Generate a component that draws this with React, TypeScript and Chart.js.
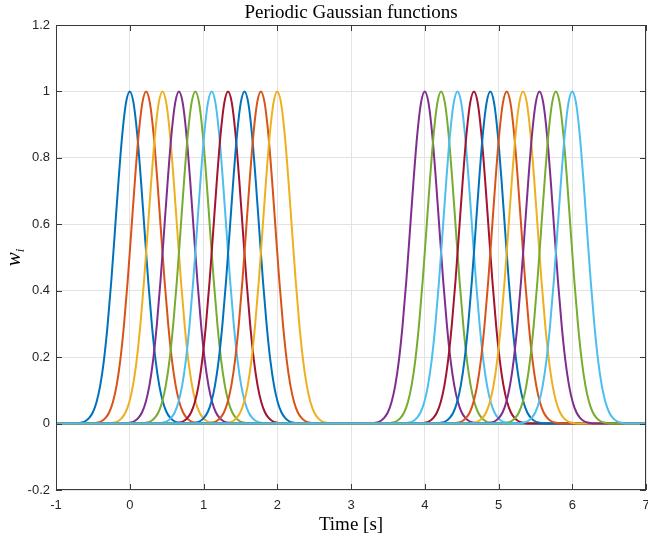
import React, { useEffect, useRef } from "react";
import { Chart, registerables } from "chart.js";

Chart.register(...registerables);

// Gaussian centres (s)
const CENTERS_A = [0, 0.222, 0.444, 0.667, 0.889, 1.111, 1.333, 1.556, 1.778, 2.0];
const CENTERS_B = [4.0, 4.222, 4.444, 4.667, 4.889, 5.111, 5.333, 5.556, 5.778, 6.0];
// One bump's shape: offset from centre (s) -> value
const PROFILE_OFFSETS = [-0.85, -0.8, -0.75, -0.7, -0.65, -0.6, -0.55, -0.5, -0.45, -0.4, -0.35, -0.3, -0.25, -0.2, -0.15, -0.1, -0.05, 0, 0.05, 0.1, 0.15, 0.2, 0.25, 0.3, 0.35, 0.4, 0.45, 0.5, 0.55, 0.6, 0.65, 0.7, 0.75, 0.8, 0.85];
const PROFILE_VALUES = [0, 0.0002, 0.0005, 0.0013, 0.0033, 0.0077, 0.017, 0.034, 0.065, 0.115, 0.191, 0.297, 0.43, 0.583, 0.738, 0.874, 0.967, 1, 0.967, 0.874, 0.738, 0.583, 0.43, 0.297, 0.191, 0.115, 0.065, 0.034, 0.017, 0.0077, 0.0033, 0.0013, 0.0005, 0.0002, 0];
const X_RANGE = [-1, 7];
const Y_RANGE = [-0.2, 1.2];
const X_TICKS = [-1, 0, 1, 2, 3, 4, 5, 6, 7];
const Y_TICKS = [-0.2, 0, 0.2, 0.4, 0.6, 0.8, 1, 1.2];
const COLORS = ["#0072BD", "#D95319", "#EDB120", "#7E2F8E", "#77AC30", "#4DBEEE", "#A2142F"];
const TITLE = "Periodic Gaussian functions";
const X_LABEL = "Time [s]";

const SERIF = "'Liberation Serif', 'DejaVu Serif', serif";
const SANS = "'Liberation Sans', Arial, sans-serif";

const decorPlugin = {
  id: "decor",
  afterDatasetsDraw(chart: any) {
    const { ctx, chartArea } = chart;
    const { left, right, top, bottom } = chartArea;
    const xs = chart.scales.x;
    const ys = chart.scales.y;
    ctx.save();
    // box
    ctx.strokeStyle = "#3a3a3a";
    ctx.lineWidth = 1;
    ctx.strokeRect(Math.round(left) + 0.5, Math.round(top) + 0.5, Math.round(right - left) - 1, Math.round(bottom - top) - 1);
    // inner ticks
    const tl = 6;
    ctx.beginPath();
    X_TICKS.forEach((t) => {
      const px = Math.round(xs.getPixelForValue(t)) + 0.5;
      ctx.moveTo(px, bottom);
      ctx.lineTo(px, bottom - tl);
      ctx.moveTo(px, top);
      ctx.lineTo(px, top + tl);
    });
    Y_TICKS.forEach((t) => {
      const py = Math.round(ys.getPixelForValue(t)) + 0.5;
      ctx.moveTo(left, py);
      ctx.lineTo(left + tl, py);
      ctx.moveTo(right, py);
      ctx.lineTo(right - tl, py);
    });
    ctx.stroke();
    // title
    ctx.fillStyle = "#000";
    ctx.textAlign = "center";
    ctx.textBaseline = "alphabetic";
    ctx.font = `19px ${SERIF}`;
    ctx.fillText(TITLE, (left + right) / 2, 18);
    // x label
    ctx.font = `19px ${SERIF}`;
    ctx.fillText(X_LABEL, (left + right) / 2, 530);
    // y label w_i
    ctx.translate(20, (top + bottom) / 2);
    ctx.rotate(-Math.PI / 2);
    ctx.font = `italic 21px ${SERIF}`;
    const wW = ctx.measureText("w").width;
    ctx.font = `italic 13px ${SERIF}`;
    const iW = ctx.measureText("i").width;
    const total = wW + iW;
    ctx.textAlign = "left";
    ctx.font = `italic 21px ${SERIF}`;
    ctx.fillText("w", -total / 2, 0);
    ctx.font = `italic 13px ${SERIF}`;
    ctx.fillText("i", -total / 2 + wW, 4);
    ctx.restore();
  },
};

function buildSeries(center: number) {
  const pts = [{ x: X_RANGE[0], y: 0 }];
  PROFILE_OFFSETS.forEach((o, k) => pts.push({ x: center + o, y: PROFILE_VALUES[k] }));
  pts.push({ x: X_RANGE[1], y: 0 });
  return pts;
}

export default function App() {
  const ref = useRef<HTMLCanvasElement>(null);
  useEffect(() => {
    const centers = [...CENTERS_A, ...CENTERS_B];
    const n = centers.length;
    const datasets = centers.map((c, i) => ({
      data: buildSeries(c),
      borderColor: COLORS[i % COLORS.length],
      backgroundColor: COLORS[i % COLORS.length],
      borderWidth: 2,
      pointRadius: 0,
      fill: false,
      cubicInterpolationMode: "monotone" as const,
      order: n - 1 - i,
    }));
    const chart = new Chart(ref.current!, {
      type: "line",
      data: { datasets },
      options: {
        animation: false,
        responsive: false,
        maintainAspectRatio: false,
        devicePixelRatio: 1,
        layout: { padding: { left: 0, right: 2, top: 25, bottom: 0 } },
        plugins: { legend: { display: false }, tooltip: { enabled: false }, title: { display: false } },
        scales: {
          x: {
            type: "linear",
            min: X_RANGE[0],
            max: X_RANGE[1],
            afterBuildTicks: (s: any) => { s.ticks = X_TICKS.map((v) => ({ value: v })); },
            afterFit: (s: any) => { s.height = 52; s.paddingLeft = 0; s.paddingRight = 0; },
            grid: { color: "#e3e3e3", drawTicks: false, lineWidth: 1 },
            border: { display: false },
            ticks: {
              padding: 8,
              color: "#262626",
              font: { family: SANS, size: 13 },
              callback: (v: any) => String(v),
            },
          },
          y: {
            type: "linear",
            min: Y_RANGE[0],
            max: Y_RANGE[1],
            afterBuildTicks: (s: any) => { s.ticks = Y_TICKS.map((v) => ({ value: v })); },
            afterFit: (s: any) => { s.width = 56; s.paddingTop = 0; s.paddingBottom = 0; },
            grid: { color: "#e3e3e3", drawTicks: false, lineWidth: 1 },
            border: { display: false },
            ticks: {
              padding: 6,
              color: "#262626",
              font: { family: SANS, size: 13 },
              callback: (v: any) => String(Math.round(Number(v) * 10) / 10),
            },
          },
        },
      },
      plugins: [decorPlugin],
    });
    return () => chart.destroy();
  }, []);
  return (
    <div style={{ position: "fixed", left: 0, top: 0, width: 648, height: 542, background: "#fff" }}>
      <canvas ref={ref} width={648} height={542} style={{ width: 648, height: 542, display: "block" }} />
    </div>
  );
}
